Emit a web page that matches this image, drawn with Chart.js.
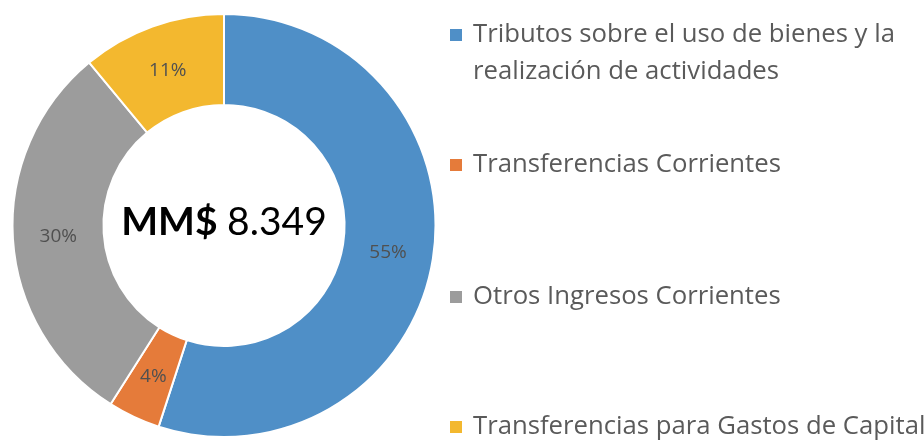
<!DOCTYPE html>
<html>
<head>
<meta charset="utf-8">
<script src="https://cdn.jsdelivr.net/npm/chart.js@4.4.1/dist/chart.umd.min.js"></script>
<style>
html,body{margin:0;padding:0;background:#fff;}
#wrap{width:924px;height:442px;position:relative;}
</style>
</head>
<body>
<div id="wrap"><canvas id="c" width="924" height="442"></canvas></div>
<script>
const categories = [
  ["Tributos sobre el uso de bienes y la", "realización de actividades"],
  ["Transferencias Corrientes"],
  ["Otros Ingresos Corrientes"],
  ["Transferencias para Gastos de Capital"]
];
const shares = [55, 4, 30, 11];
const colors = ["#4F8FC7", "#E57B3A", "#9C9C9C", "#F3B82F"];
const centerBold = "MM$";
const centerValue = "8.349";

const FONT = "Lato, 'Noto Sans', sans-serif";
const LFONT = "'Open Sans', 'Noto Sans', sans-serif";

const labelPlugin = {
  id: 'sliceLabels',
  afterDatasetsDraw(chart) {
    const ctx = chart.ctx;
    const meta = chart.getDatasetMeta(0);
    ctx.save();
    ctx.font = "19px " + LFONT;
    ctx.fillStyle = "#505050";
    ctx.textAlign = "center";
    ctx.textBaseline = "middle";
    meta.data.forEach((arc, i) => {
      const p = arc.getCenterPoint();
      ctx.fillText(shares[i] + "%", p.x, p.y + 1);
    });
    const first = meta.data[0];
    const cx = first.x, cy = first.y;
    ctx.fillStyle = "#000";
    ctx.font = "bold 39px " + FONT;
    const w1 = ctx.measureText(centerBold + " ").width;
    ctx.font = "39px " + FONT;
    const w2 = ctx.measureText(centerValue).width;
    let x = cx - (w1 + w2) / 2;
    ctx.textAlign = "left";
    ctx.font = "bold 39px " + FONT;
    ctx.fillText(centerBold, x, cy - 3);
    ctx.font = "39px " + FONT;
    ctx.fillText(centerValue, x + w1, cy - 3);
    ctx.restore();
  }
};

const legendPlugin = {
  id: 'sideLegend',
  afterDraw(chart, args, opts) {
    const ctx = chart.ctx;
    const labels = chart.data.labels;
    const bg = chart.data.datasets[0].backgroundColor;
    ctx.save();
    ctx.font = "100px " + LFONT;
    const ref = ctx.measureText(labels[0][0]).width;
    const size = Math.min(26, 100 * opts.firstLineWidth / ref);
    ctx.font = size.toFixed(2) + "px " + LFONT;
    ctx.textBaseline = "middle";
    ctx.textAlign = "left";
    labels.forEach((lines, i) => {
      const y = opts.itemY[i];
      ctx.fillStyle = bg[i];
      ctx.fillRect(opts.boxX, y - opts.box / 2, opts.box, opts.box);
      ctx.fillStyle = "#5a5a5a";
      lines.forEach((t, j) => {
        ctx.fillText(t, opts.textX, y + j * opts.lineH);
      });
    });
    ctx.restore();
  }
};

new Chart(document.getElementById('c'), {
  type: 'doughnut',
  data: {
    labels: categories,
    datasets: [{
      data: shares,
      backgroundColor: colors,
      borderColor: "#ffffff",
      borderWidth: 2,
      hoverOffset: 0
    }]
  },
  options: {
    responsive: false,
    animation: false,
    cutout: "57%",
    layout: { padding: { left: 0, right: 476, top: 13, bottom: 4 } },
    plugins: {
      legend: { display: false },
      tooltip: { enabled: false },
      sideLegend: {
        firstLineWidth: 422,
        box: 12,
        boxX: 450,
        textX: 473,
        lineH: 37,
        itemY: [35, 165, 297, 427]
      }
    }
  },
  plugins: [labelPlugin, legendPlugin]
});
</script>
</body>
</html>
